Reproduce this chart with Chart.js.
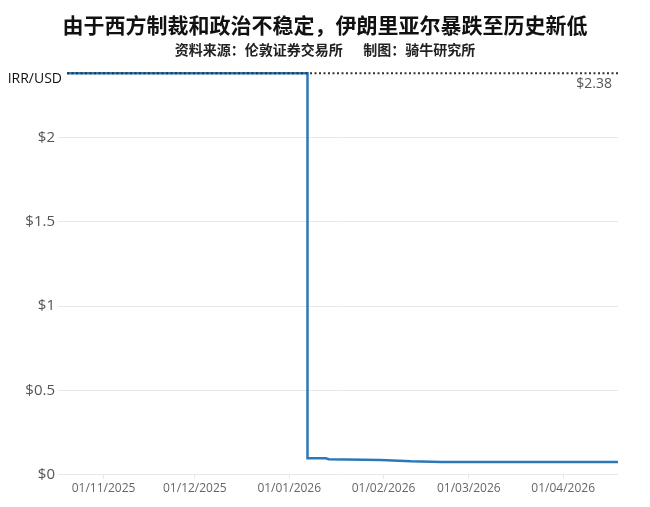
<!DOCTYPE html>
<html>
<head>
<meta charset="utf-8">
<title>伊朗里亚尔暴跌至历史新低</title>
<script src="https://cdn.jsdelivr.net/npm/chart.js@4.4.1/dist/chart.umd.min.js"></script>
<style>
    html, body { margin: 0; padding: 0; background: #ffffff; }
    #wrap { width: 650px; height: 507px; position: relative; }
</style>
</head>
<body>
<div id="wrap"><canvas id="rialChart"></canvas></div>
<script>
// ===========================
// Data
// ===========================

const rateDates = ['2025-10-20', '2026-01-07', '2026-01-07', '2026-01-13', '2026-01-14', '2026-01-31',
    '2026-02-10', '2026-02-20', '2026-03-01', '2026-03-20', '2026-04-05', '2026-04-19'];
const rateValues = [2.38, 2.38, 0.097, 0.097, 0.091, 0.087, 0.079, 0.075, 0.074, 0.074, 0.075, 0.074];

const refDates = ['2025-10-20', '2026-04-19'];
const refValues = [2.38, 2.38];

const monthTicks = ['2025-11-01', '2025-12-01', '2026-01-01', '2026-02-01', '2026-03-01', '2026-04-01'];
const yTicks = [0, 0.5, 1, 1.5, 2];

const titleText = '由于西方制裁和政治不稳定，伊朗里亚尔暴跌至历史新低';
const subtitleText = '资料来源：伦敦证券交易所\u3000  制图：骑牛研究所';
const unitLabel = 'IRR/USD';

// ===========================
// Helpers
// ===========================

function toTime(str) {
    const [y, m, d] = str.split('-').map(Number);
    return Date.UTC(y, m - 1, d);
}

function formatDate(ms) {
    const d = new Date(ms);
    const dd = String(d.getUTCDate()).padStart(2, '0');
    const mm = String(d.getUTCMonth() + 1).padStart(2, '0');
    return `${dd}/${mm}/${d.getUTCFullYear()}`;
}

function toPoints(dates, values) {
    return dates.map((d, i) => ({ x: toTime(d), y: values[i] }));
}

// ===========================
// Labels on the reference line
// ===========================

const refLabels = {
    id: 'refLabels',
    afterDraw(chart) {
        const { ctx, chartArea, scales } = chart;
        const yy = scales.y.getPixelForValue(refValues[0]);
        ctx.save();
        ctx.textBaseline = 'middle';
        ctx.font = '14px "Open Sans", sans-serif';
        ctx.fillStyle = '#111111';
        ctx.textAlign = 'right';
        ctx.fillText(unitLabel, chartArea.left - 5, yy + 6);
        ctx.fillStyle = '#555555';
        ctx.fillText('$' + refValues[0].toFixed(2), chartArea.right - 6, yy + 11);
        ctx.restore();
    }
};

// ===========================
// Chart
// ===========================

const ctx = document.getElementById('rialChart');

new Chart(ctx, {
    type: 'line',
    data: {
        datasets: [
            {
                label: 'ref',
                data: toPoints(refDates, refValues),
                borderColor: '#333333',
                borderWidth: 2,
                borderDash: [2, 2.5],
                pointRadius: 0,
                fill: false
            },
            {
                label: unitLabel,
                data: toPoints(rateDates, rateValues),
                borderColor: '#2b78b8',
                borderWidth: 2.5,
                pointRadius: 0,
                tension: 0,
                fill: false
            }
        ]
    },
    options: {
        responsive: true,
        maintainAspectRatio: false,
        animation: false,
        layout: {
            padding: { left: 0, right: 0, top: 0, bottom: 8 }
        },
        plugins: {
            legend: { display: false },
            tooltip: { enabled: false },
            title: {
                display: true,
                text: titleText,
                color: '#111111',
                font: { family: '"Noto Sans CJK SC", sans-serif', size: 21, weight: 'bold' },
                padding: { top: 12, bottom: 4 }
            },
            subtitle: {
                display: true,
                text: subtitleText,
                color: '#222222',
                font: { family: '"Noto Sans CJK SC", sans-serif', size: 14, weight: 'bold' },
                padding: { top: 0, bottom: 12 }
            }
        },
        scales: {
            x: {
                type: 'linear',
                min: toTime(refDates[0]),
                max: toTime(refDates[refDates.length - 1]),
                afterBuildTicks(scale) {
                    scale.ticks = monthTicks.map(d => ({ value: toTime(d) }));
                },
                ticks: {
                    autoSkip: false,
                    maxRotation: 0,
                    padding: 3,
                    color: '#666666',
                    font: { family: '"Open Sans", sans-serif', size: 12 },
                    callback: (v) => formatDate(v)
                },
                grid: {
                    display: true,
                    drawOnChartArea: false,
                    color: '#e6e6e6',
                    tickLength: 4
                },
                border: { display: false }
            },
            y: {
                min: 0,
                max: 2.4,
                afterBuildTicks(scale) {
                    scale.ticks = yTicks.map(v => ({ value: v }));
                },
                afterFit(scale) {
                    scale.width = 67;
                },
                ticks: {
                    padding: 3,
                    color: '#555555',
                    font: { family: '"Open Sans", sans-serif', size: 15 },
                    callback: (v) => '$' + v
                },
                grid: {
                    color: '#e8e8e8',
                    tickLength: 9
                },
                border: { display: false }
            },
            // empty right-hand axis, only keeps room for the "$2.38" label
            yRight: {
                position: 'right',
                display: true,
                ticks: { display: false },
                grid: { display: false, drawOnChartArea: false },
                border: { display: false },
                afterFit(scale) {
                    scale.width = 32;
                }
            }
        }
    },
    plugins: [refLabels]
});
</script>
</body>
</html>
